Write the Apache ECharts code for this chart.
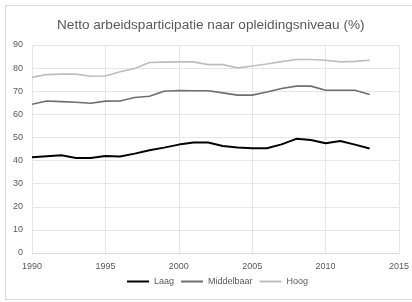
<!DOCTYPE html>
<html>
<head>
<meta charset="utf-8">
<script src="https://cdn.jsdelivr.net/npm/echarts@6/dist/echarts.min.js"></script>
<style>
  html, body { margin: 0; padding: 0; background: #ffffff; }
  #wrap { position: relative; width: 412px; height: 302px; overflow: hidden; }
  #frame { position: absolute; left: 5px; top: 5px; width: 420px; height: 293px; border: 1px solid #d9d9d9; }
  #chart { position: absolute; left: 0; top: 0; width: 412px; height: 302px; }
</style>
</head>
<body>
<div id="wrap">
  <div id="frame"></div>
  <div id="chart"></div>
</div>
<script>
  // jaartallen en waarden
  var years = [1990, 1991, 1992, 1993, 1994, 1995, 1996, 1997, 1998, 1999, 2000, 2001,
    2002, 2003, 2004, 2005, 2006, 2007, 2008, 2009, 2010, 2011, 2012, 2013];
  var laag = [41.4, 41.9, 42.3, 41.1, 41.1, 42.0, 41.8, 43.0, 44.5, 45.6, 46.9, 47.8,
    47.8, 46.3, 45.6, 45.3, 45.3, 47.0, 49.4, 48.9, 47.5, 48.5, 46.9, 45.2];
  var middelbaar = [64.4, 65.8, 65.5, 65.2, 64.8, 65.7, 65.8, 67.3, 67.8, 70.0, 70.3, 70.2,
    70.2, 69.3, 68.3, 68.3, 69.7, 71.2, 72.2, 72.2, 70.4, 70.4, 70.4, 68.6];
  var hoog = [76.0, 77.2, 77.4, 77.4, 76.5, 76.6, 78.4, 79.8, 82.4, 82.6, 82.7, 82.7,
    81.5, 81.5, 80.1, 80.9, 81.8, 82.8, 83.7, 83.7, 83.4, 82.7, 82.9, 83.4];
  var yTicks = [0, 10, 20, 30, 40, 50, 60, 70, 80, 90];
  var xTicks = [1990, 1995, 2000, 2005, 2010, 2015];

  function pairs(vals) {
    return years.map(function (y, i) { return [y, vals[i]]; });
  }

  var font = '"Liberation Sans", Arial, sans-serif';
  var chart = echarts.init(document.getElementById('chart'), null, { renderer: 'canvas' });

  chart.setOption({
    backgroundColor: 'transparent',
    animation: false,
    title: {
      text: 'Netto arbeidsparticipatie naar opleidingsniveau (%)',
      left: 52,
      top: 13,
      textStyle: { fontFamily: font, fontSize: 13.6, fontWeight: 'normal', color: '#595959' }
    },
    legend: {
      bottom: 11,
      left: 122,
      icon: 'rect',
      itemWidth: 22,
      itemHeight: 2,
      itemGap: 7,
      textStyle: { fontFamily: font, fontSize: 9, color: '#595959' },
      data: ['Laag', 'Middelbaar', 'Hoog']
    },
    grid: { left: 32, right: 13, top: 45, bottom: 49 },
    xAxis: {
      type: 'value',
      min: xTicks[0],
      max: xTicks[xTicks.length - 1],
      interval: 5,
      axisLine: { show: true, lineStyle: { color: '#d9d9d9' } },
      axisTick: { show: false },
      axisLabel: { fontFamily: font, fontSize: 9, color: '#595959', margin: 9,
        formatter: function (v) { return String(v); } },
      splitLine: { show: true, lineStyle: { color: '#e6e6e6' } }
    },
    yAxis: {
      type: 'value',
      min: yTicks[0],
      max: yTicks[yTicks.length - 1],
      interval: 10,
      axisLine: { show: false },
      axisTick: { show: false },
      axisLabel: { fontFamily: font, fontSize: 9, color: '#595959', margin: 9 },
      splitLine: { show: true, lineStyle: { color: '#e6e6e6' } }
    },
    series: [
      {
        name: 'Laag', type: 'line', data: pairs(laag), symbol: 'none',
        lineStyle: { color: '#000000', width: 2 }, itemStyle: { color: '#000000' }
      },
      {
        name: 'Middelbaar', type: 'line', data: pairs(middelbaar), symbol: 'none',
        lineStyle: { color: '#6f6f6f', width: 1.6 }, itemStyle: { color: '#6f6f6f' }
      },
      {
        name: 'Hoog', type: 'line', data: pairs(hoog), symbol: 'none',
        lineStyle: { color: '#bdbdbd', width: 1.6 }, itemStyle: { color: '#bdbdbd' }
      }
    ]
  });
</script>
</body>
</html>
